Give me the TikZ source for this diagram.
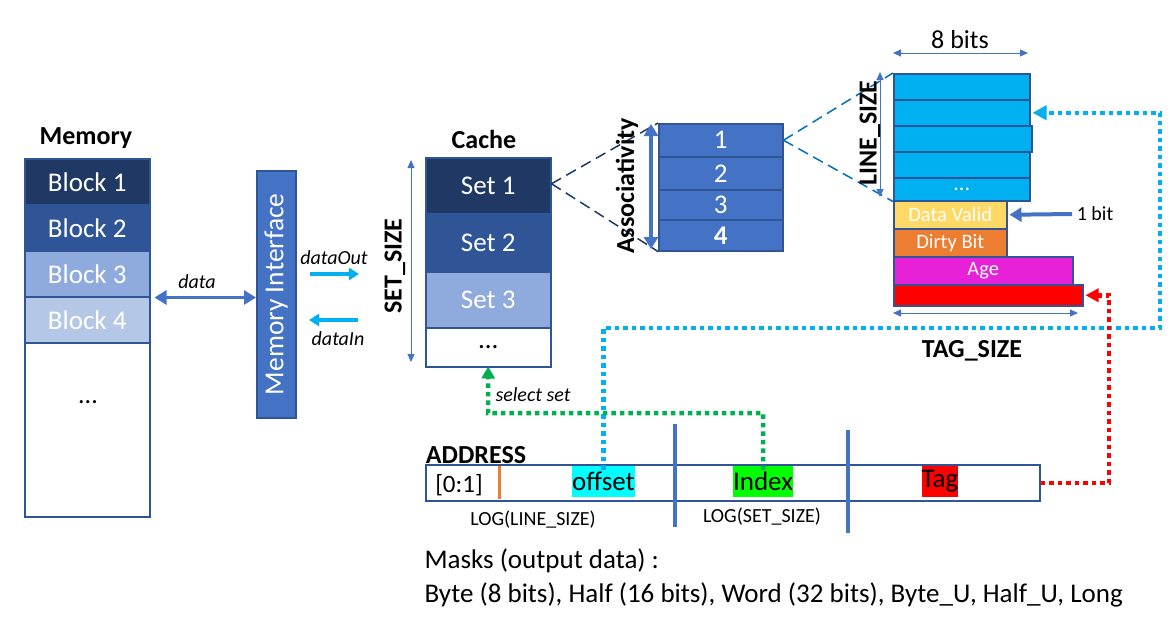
\documentclass[tikz,border=0pt]{standalone}
\usepackage{fontspec}
\setmainfont{Carlito}
\usetikzlibrary{arrows.meta,calc}
\definecolor{navy}{HTML}{203864}
\definecolor{blueB}{HTML}{2F5597}
\definecolor{blueC}{HTML}{8FAADC}
\definecolor{blueD}{HTML}{B4C7E7}
\definecolor{acc}{HTML}{4472C4}
\definecolor{bord}{HTML}{2F5597}
\definecolor{cyanL}{HTML}{00B0F0}
\definecolor{dblue}{HTML}{0070C0}
\definecolor{yel}{HTML}{FFD966}
\definecolor{orng}{HTML}{ED7D31}
\definecolor{mag}{HTML}{E621D8}
\definecolor{grn}{HTML}{00B050}
\definecolor{hcyan}{HTML}{00FFFF}
\definecolor{hgreen}{HTML}{00FF00}
\definecolor{hred}{HTML}{FF0000}
\newcommand\fsz[1]{\fontsize{#1}{#1}\selectfont}
\begin{document}
\begin{tikzpicture}[x=1pt,y=-1pt,
  cell/.style={draw=bord, line width=1.5pt, anchor=north west, inner sep=0pt, text=white, font=\fsz{27}},
  small/.style={font=\fsz{20}},
  bigbold/.style={font=\fsz{26}\bfseries},
  thinarr/.style={acc, line width=1pt, {Triangle[length=8pt,width=7pt]}-{Triangle[length=8pt,width=7pt]}},
  thickarr/.style={acc, line width=4pt, -{Triangle[length=12pt,width=14pt]}},
  cyarr/.style={cyanL, line width=4pt, -{Triangle[length=10pt,width=12pt]}},
  dotln/.style={line width=4.5pt, dash pattern=on 4.5pt off 4pt},
  hl/.style={inner sep=0pt, minimum height=31pt, font=\fsz{27}, text=black}
]
\useasboundingbox (0,0) rectangle (1176,619);

% Memory
\node[bigbold] (memt) at (86,138) {Memory};
\node[cell, fill=navy, minimum width=125pt, minimum height=46pt] (b1) at (24,158) {Block 1};
\node[cell, fill=blueB, minimum width=125pt, minimum height=46pt] (b2) at (24,204) {Block 2};
\node[cell, fill=blueC, minimum width=125pt, minimum height=46pt] (b3) at (24,250) {Block 3};
\node[cell, fill=blueD, minimum width=125pt, minimum height=46pt] (b4) at (24,296) {Block 4};
\node[cell, fill=white, minimum width=125pt, minimum height=174pt] (b5) at (24,342) {};
\node[font=\fsz{26}] (bdots) at (88,402) {...};

% Memory interface
\node[cell, fill=acc, minimum width=39pt, minimum height=247pt] (mi) at (256,170) {};
\node[rotate=90, text=white, font=\fsz{27.5}] (mit) at (mi.center) {Memory Interface};

\draw[acc, line width=3pt, {Triangle[length=12pt,width=14pt]}-{Triangle[length=12pt,width=14pt]}]
  ([xshift=4pt]b3.south east) -- (mi.west |- b3.south east);
\node[small, font=\fsz{20}\itshape] (datal) at (197,282) {data};

\coordinate (do1) at (310,274); \coordinate (do2) at (359,274);
\coordinate (di1) at (358,320); \coordinate (di2) at (309,320);
\draw[cyarr] (do1) -- (do2);
\draw[cyarr] (di1) -- (di2);
\node[font=\fsz{20}\itshape] (dol) at (334,258) {dataOut};
\node[font=\fsz{20}\itshape] (dil) at (338,339) {dataIn};

% Cache
\node[bigbold] (ct) at (484,139) {Cache};
\node[cell, fill=navy, minimum width=125pt, minimum height=56pt] (c1) at (425,157) {Set 1};
\node[cell, fill=blueB, minimum width=125pt, minimum height=58pt] (c2) at (425,213) {Set 2};
\node[cell, fill=blueC, minimum width=125pt, minimum height=56pt] (c3) at (425,271) {Set 3};
\node[cell, fill=white, minimum width=125pt, minimum height=39pt, text=black] (c4) at (425,327) {...};
\coordinate (ss1) at (411,160); \coordinate (ss2) at (411,362);
\draw[thinarr] (ss1) -- (ss2);
\node[bigbold, rotate=90] (sst) at (395,266) {SET\_SIZE};

% Associativity
\node[cell, fill=acc, minimum width=124pt, minimum height=33pt] (a1) at (658,123) {1};
\node[cell, fill=acc, minimum width=124pt, minimum height=33pt] (a2) at (658,156) {2};
\node[cell, fill=acc, minimum width=124pt, minimum height=30pt] (a3) at (658,189) {3};
\node[cell, fill=acc, minimum width=124pt, minimum height=31pt, font=\fsz{27}\bfseries] (a4) at (658,219) {4};
\draw[navy, line width=1.5pt, dash pattern=on 11pt off 6pt] ([yshift=2pt]c1.east) -- (a1.north west);
\draw[navy, line width=1.5pt, dash pattern=on 11pt off 6pt] ([yshift=2pt]c1.east) -- (a4.south west);
\coordinate (as1) at (651,124); \coordinate (as2) at (651,249);
\draw[acc, line width=4pt, {Triangle[length=12pt,width=14pt]}-{Triangle[length=12pt,width=14pt]}] (as1) -- (as2);
\node[bigbold, rotate=90] (ast) at (627,186) {Associativity};

% Line
\node[cell, fill=cyanL, minimum width=136pt, minimum height=26pt] (l1) at (893,73) {};
\node[cell, fill=cyanL, minimum width=136pt, minimum height=26pt] (l2) at (893,99) {};
\node[cell, fill=cyanL, minimum width=138pt, minimum height=26pt] (l3) at (893,125) {};
\node[cell, fill=cyanL, minimum width=136pt, minimum height=26pt] (l4) at (893,151) {};
\node[cell, fill=cyanL, minimum width=136pt, minimum height=23pt, font=\fsz{22}] (l5) at (893,177) {...};
\node[cell, fill=yel, minimum width=113pt, minimum height=28pt, font=\fsz{20.5}] (dv) at (893,200) {Data Valid};
\node[cell, fill=orng, minimum width=113pt, minimum height=28pt, font=\fsz{20.5}] (db) at (893,228) {Dirty Bit};
\node[cell, fill=mag, minimum width=179pt, minimum height=28pt, font=\fsz{20.5}] (age) at (893,256) {Age};
\node[cell, fill=hred, minimum width=189pt, minimum height=21pt] (tg) at (893,284) {};
\draw[dblue, line width=1.5pt, dash pattern=on 11pt off 6pt] (a1.east) -- (l1.north west);
\draw[dblue, line width=1.5pt, dash pattern=on 11pt off 6pt] (a1.east) -- (l5.south west);

\coordinate (eb1) at (893,53); \coordinate (eb2) at (1028,53);
\draw[thinarr] (eb1) -- (eb2);
\node[font=\fsz{26}] (ebt) at (960,40) {8 bits};
\coordinate (ls1) at (880,72); \coordinate (ls2) at (880,197);
\draw[thinarr] (ls1) -- (ls2);
\node[bigbold, rotate=90] (lst) at (870,133) {LINE\_SIZE};
\coordinate (ob1) at (1072,214);
\draw[thickarr] (ob1) -- ([xshift=2pt]dv.east);
\node[small] (obt) at (1095,214) {1 bit};
\coordinate (ts1) at (893,313); \coordinate (ts2) at (1078,313);
\draw[thinarr] (ts1) -- (ts2);
\node[bigbold] (tst) at (972,351) {TAG\_SIZE};

% Address
\node[draw=bord, line width=1.5pt, anchor=north west, inner sep=0pt, minimum width=614pt, minimum height=36pt] (addr) at (425,464) {};
\node[bigbold] (addrt) at (476,455) {ADDRESS};
\node[font=\fsz{25}] (rng) at (459,485) {[0:1]};
\coordinate (or1) at (499,466); \coordinate (or2) at (499,499);
\draw[orng, line width=3pt] (or1) -- (or2);
\node[hl, fill=hcyan, minimum width=63pt] (off) at (603.5,481.5) {offset};
\node[hl, fill=hgreen, minimum width=60pt] (idx) at (763,481.5) {Index};
\node[hl, fill=hred, minimum width=36pt] (tgf) at (940,481.5) {Tag};
\coordinate (v1a) at (675,424); \coordinate (v1b) at (675,527);
\coordinate (v2a) at (848,430); \coordinate (v2b) at (848,533);
\draw[acc, line width=4pt] (v1a) -- (v1b);
\draw[acc, line width=4pt] (v2a) -- (v2b);
\node[small] (lg1) at (533,520) {LOG(LINE\_SIZE)};
\node[small] (lg2) at (762,517) {LOG(SET\_SIZE)};

% dotted connectors
\coordinate (cy1) at (1160,328);
\draw[dotln, cyanL, -{Triangle[length=14pt,width=14pt]}] ([yshift=-4pt]off.north) |- (cy1) |- ([xshift=2pt]l2.east);
\coordinate (rd1) at (1109,300);
\draw[dotln, hred, -{Triangle[length=13pt,width=13pt]}] (addr.east) -| (rd1) |- ([xshift=2pt]tg.east);
\coordinate (gr1) at (488,413);
\draw[dotln, grn, -{Triangle[length=12pt,width=13pt]}] ([yshift=-4pt]idx.north) |- (gr1) -- ([yshift=1pt]c4.south);
\node[font=\fsz{20}\itshape] (sel) at (533,395) {select set};

% Masks
\node[anchor=west, font=\fsz{27}] (mk1) at (421,561) {Masks (output data) :};
\node[anchor=west, font=\fsz{27}] (mk2) at (421,595) {Byte (8 bits), Half (16 bits), Word (32 bits), Byte\_U, Half\_U, Long};
\end{tikzpicture}
\end{document}
